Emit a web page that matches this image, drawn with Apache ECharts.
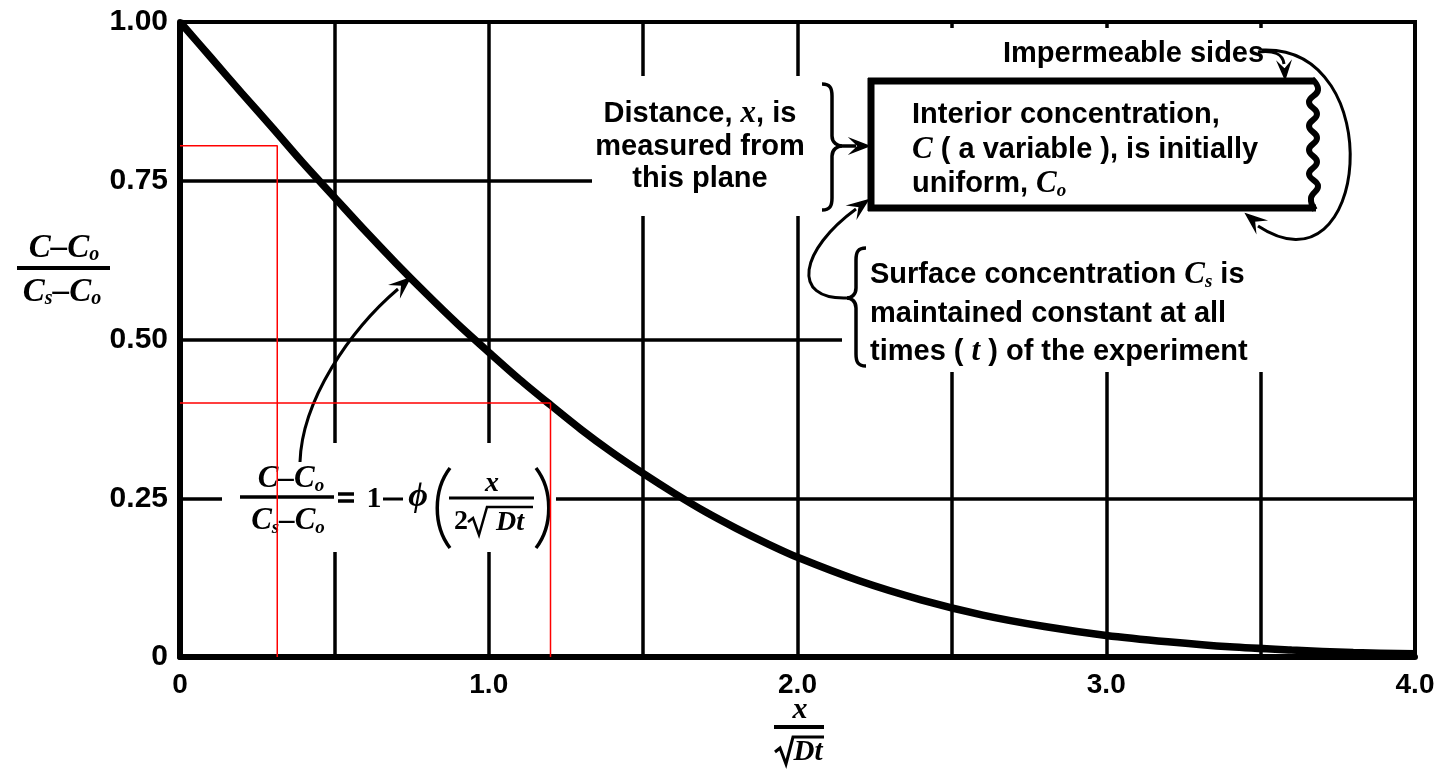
<!DOCTYPE html>
<html><head><meta charset="utf-8">
<script src="https://cdn.jsdelivr.net/npm/echarts@6/dist/echarts.min.js"></script>
<style>html,body{margin:0;padding:0;background:#fff}#c{width:1451px;height:778px}</style>
</head><body><div id="c"></div>
<script>
// ---- data ----
const xValues = [0,0.1,0.2,0.3,0.4,0.5,0.6,0.7,0.8,0.9,1.0,1.1,1.2,1.3,1.4,1.5,1.6,1.7,1.8,1.9,2.0,2.2,2.4,2.6,2.8,3.0,3.2,3.4,3.6,3.8,4.0];
const ratioValues = [1.000,0.944,0.888,0.833,0.777,0.724,0.671,0.620,0.571,0.524,0.480,0.437,0.397,0.358,0.322,0.289,0.258,0.229,0.203,0.179,0.157,0.120,0.090,0.066,0.048,0.034,0.024,0.016,0.011,0.007,0.005];
const guideX = [0.315, 1.2];
const guideY = [0.805, 0.40];
const xTickValues = [0, 1, 2, 3, 4];
const xTickLabels = ['0', '1.0', '2.0', '3.0', '4.0'];
const yTickValues = [0, 0.25, 0.5, 0.75, 1];
const yTickLabels = ['0', '0.25', '0.50', '0.75', '1.00'];

const SANS = '"Liberation Sans", Arial, sans-serif';
const SERIF = '"Liberation Serif", "DejaVu Serif", serif';

function richSet(main, sub, serifSize) {
  return {
    n: {font: 'bold ' + main + 'px ' + SANS, fill: '#000', lineHeight: 34},
    i: {font: 'bold italic ' + serifSize + 'px ' + SERIF, fill: '#000', lineHeight: 34},
    s: {font: 'bold italic ' + sub + 'px ' + SERIF, fill: '#000', lineHeight: 12, verticalAlign: 'bottom'}
  };
}
const R = richSet(29, 19, 31);
const RB = richSet(29, 20, 33);

function T(x, y, text, opt) {
  opt = opt || {};
  const st = {text: text, font: opt.font || ('bold 29px ' + SANS), fill: '#000',
    align: opt.align || 'left', verticalAlign: 'middle', textAlign: opt.align || 'left', textVerticalAlign: 'middle'};
  if (opt.rich) st.rich = opt.rich;
  return {type: 'text', x: x, y: y, z: 7, silent: true, style: st};
}
function L(x1, y1, x2, y2, w) {
  return {type: 'line', z: 6, silent: true, shape: {x1: x1, y1: y1, x2: x2, y2: y2}, style: {stroke: '#000', lineWidth: w || 3}};
}
function B(p, w) {
  return {type: 'bezierCurve', z: 6, silent: true,
    shape: {x1: p[0], y1: p[1], cpx1: p[2], cpy1: p[3], cpx2: p[4], cpy2: p[5], x2: p[6], y2: p[7]},
    style: {stroke: '#000', lineWidth: w || 3, fill: null}};
}
function P(points, w, smooth) {
  return {type: 'polyline', z: 6, silent: true, shape: {points: points, smooth: smooth || 0}, style: {stroke: '#000', lineWidth: w || 3, fill: null}};
}
function head(x, y, ang, len, wid) {
  len = len || 18; wid = wid || 7;
  const c = Math.cos(ang), s = Math.sin(ang);
  const bx = x - len * c, by = y - len * s;
  return {type: 'polygon', z: 6, silent: true,
    shape: {points: [[x, y], [bx - s * wid, by + c * wid], [x - len * 0.6 * c, y - len * 0.6 * s], [bx + s * wid, by - c * wid]]},
    style: {fill: '#000', stroke: '#000', lineWidth: 1.5, lineJoin: 'miter'}};
}
function brace(xEnd, xSpine, xTip, yT, yM, yB, w) {
  const d = xSpine > xEnd ? 1 : -1;
  return [
    B([xEnd, yT, xSpine - 2 * d, yT, xSpine, yT + 4, xSpine, yT + 12], w),
    L(xSpine, yT + 12, xSpine, yM - 10, w),
    B([xSpine, yM - 10, xSpine, yM - 3, xTip - 4 * d, yM, xTip, yM], w),
    B([xTip, yM, xTip - 4 * d, yM, xSpine, yM + 3, xSpine, yM + 10], w),
    L(xSpine, yM + 10, xSpine, yB - 12, w),
    B([xSpine, yB - 12, xSpine, yB - 4, xSpine - 2 * d, yB, xEnd, yB], w)
  ];
}
function knock(x, y, w, h) {
  return {type: 'rect', z: 1, silent: true, shape: {x: x, y: y, width: w, height: h}, style: {fill: '#fff'}};
}

const g = [];
// white knock-outs where the grid is interrupted by the lettering
g.push(knock(592, 76, 821, 140));
g.push(knock(842, 28, 571, 344));
g.push(knock(222, 443, 334, 109));

// "Distance, x, is measured from this plane"
g.push(T(700, 114, '{n|Distance, }{i|x}{n|, is}', {align: 'center', rich: R}));
g.push(T(700, 147, 'measured from', {align: 'center'}));
g.push(T(700, 179, 'this plane', {align: 'center'}));
brace(822, 832, 842, 84, 146, 210, 3.5).forEach(e => g.push(e));
g.push(L(842, 146, 856, 146, 3.5));
g.push(head(869, 146, 0));

// specimen box
g.push(L(868, 81, 1313, 81, 7));
g.push(L(868, 208, 1316, 208, 7));
g.push(L(871, 78, 871, 211, 7));
g.push(P([[1312, 79], [1318, 90], [1309, 102], [1317, 114], [1309, 126], [1317, 138], [1309, 150], [1317, 162], [1309, 174], [1318, 186], [1311, 198], [1315, 210]], 6, 0.5));
g.push(T(912, 115, 'Interior concentration,'));
g.push(T(912, 150, '{i|C}{n| ( a variable ), is initially}', {rich: R}));
g.push(T(912, 184, '{n|uniform, }{i|C}{s|o}', {rich: R}));

// Impermeable sides
g.push(T(1003, 54, 'Impermeable sides'));
g.push(B([1258, 52, 1274, 50, 1283, 54, 1284, 64], 3));
g.push(head(1285, 79, Math.PI / 2 - 0.05, 16, 6));
g.push(B([1262, 50, 1390, 45, 1370, 300, 1258, 226], 3));
g.push(head(1246, 214, -2.45));

// Surface concentration
brace(866, 856, 847, 248, 298, 366, 3.5).forEach(e => g.push(e));
g.push(T(870, 275, '{n|Surface concentration }{i|C}{s|s}{n| is}', {rich: R}));
g.push(T(870, 314, 'maintained constant at all'));
g.push(T(870, 352, '{n|times ( }{i|t}{n| ) of the experiment}', {rich: R}));
g.push(B([847, 298, 790, 300, 800, 250, 856, 209], 3));
g.push(head(868, 200, -0.64));

// formula
g.push(T(291, 479, '{i|C}{i|–}{i|C}{s|o}', {align: 'center', rich: R}));
g.push(L(240, 497, 334, 497, 3.5));
g.push(T(288, 521, '{i|C}{s|s}{i|–}{i|C}{s|o}', {align: 'center', rich: R}));
g.push(L(338, 494, 354, 494, 3.5));
g.push(L(338, 501, 354, 501, 3.5));
g.push(T(374, 499, '1', {align: 'center', font: 'bold 30px ' + SERIF}));
g.push(L(383, 499, 403, 499, 3));
g.push(T(418, 497, 'ϕ', {align: 'center', font: 'bold italic 34px ' + SERIF}));
g.push(B([450, 468, 433, 490, 433, 526, 450, 548], 3.5));
g.push(B([536, 468, 553, 490, 553, 526, 536, 548], 3.5));
g.push(T(492, 484, 'x', {align: 'center', font: 'bold italic 28px ' + SERIF}));
g.push(L(449, 498, 534, 498, 3));
g.push(T(461, 522, '2', {align: 'center', font: 'bold 28px ' + SERIF}));
g.push(P([[468, 522], [473, 518], [479, 535], [487, 507], [533, 507]], 2.5));
g.push(T(510, 523, 'Dt', {align: 'center', font: 'bold italic 28px ' + SERIF}));
g.push(B([300, 462, 302, 400, 350, 330, 398, 289], 3));
g.push(head(410, 278, Math.atan2(-43, 50)));

// y-axis name
g.push(T(64, 248, '{i|C}{i|–}{i|C}{s|o}', {align: 'center', rich: RB}));
g.push(L(17, 268, 110, 268, 4));
g.push(T(62, 292, '{i|C}{s|s}{i|–}{i|C}{s|o}', {align: 'center', rich: RB}));

// x-axis name
g.push(T(800, 710, 'x', {align: 'center', font: 'bold italic 30px ' + SERIF}));
g.push(L(774, 727, 824, 727, 4));
g.push(P([[775, 752], [780, 748], [786, 764], [793, 737], [824, 737]], 3));
g.push(T(808, 753, 'Dt', {align: 'center', font: 'bold italic 29px ' + SERIF}));

const chart = echarts.init(document.getElementById('c'), null, {renderer: 'canvas'});
chart.setOption({
  animation: false,
  backgroundColor: '#fff',
  grid: {left: 180, right: 36, top: 22, bottom: 121, show: true, borderColor: '#000', borderWidth: 4},
  xAxis: {
    type: 'value', min: 0, max: 4, interval: 0.5,
    axisLine: {show: true, lineStyle: {color: '#000', width: 6}},
    axisTick: {show: false},
    splitLine: {show: true, lineStyle: {color: '#000', width: 3.5}},
    axisLabel: {
      margin: 14, color: '#000', fontSize: 28, fontWeight: 'bold', fontFamily: 'Liberation Sans',
      formatter: v => { const i = xTickValues.indexOf(v); return i >= 0 ? xTickLabels[i] : ''; }
    }
  },
  yAxis: {
    type: 'value', min: 0, max: 1, interval: 0.25,
    axisLine: {show: true, lineStyle: {color: '#000', width: 6}},
    axisTick: {show: false},
    splitLine: {show: true, lineStyle: {color: '#000', width: 3.5}},
    axisLabel: {
      margin: 12, color: '#000', fontSize: 30, fontWeight: 'bold', fontFamily: 'Liberation Sans',
      formatter: v => { const i = yTickValues.indexOf(v); return i >= 0 ? yTickLabels[i] : ''; }
    }
  },
  graphic: {elements: g},
  series: [
    {type: 'line', data: xValues.map((x, i) => [x, ratioValues[i]]), showSymbol: false, smooth: 0.3,
     lineStyle: {color: '#000', width: 7.5}, z: 3, silent: true},
    {type: 'line', data: [[0, guideY[0]], [guideX[0], guideY[0]], [guideX[0], 0]], showSymbol: false,
     lineStyle: {color: '#ff0000', width: 1.5}, z: 10, silent: true},
    {type: 'line', data: [[0, guideY[1]], [guideX[1], guideY[1]], [guideX[1], 0]], showSymbol: false,
     lineStyle: {color: '#ff0000', width: 1.5}, z: 10, silent: true}
  ]
});
</script>
</body></html>
